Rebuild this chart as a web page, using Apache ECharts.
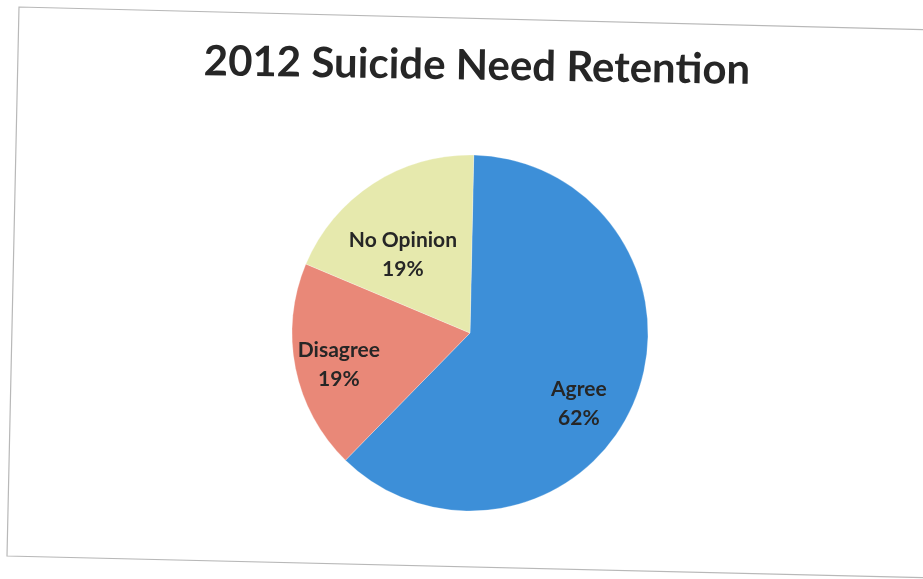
<!DOCTYPE html>
<html>
<head>
<meta charset="utf-8">
<script src="https://cdn.jsdelivr.net/npm/echarts@6/dist/echarts.min.js"></script>
<style>
html,body{margin:0;padding:0;background:#fff;}
#main{width:923px;height:579px;}
</style>
</head>
<body>
<div id="main"></div>
<script>
var titleText = '2012 Suicide Need Retention';
var categories = ['Agree', 'Disagree', 'No Opinion'];
var values = [62, 19, 19];
var colors = ['#3d8fd8', '#e98878', '#e6e9ad'];
var labelShift = [[24, 35], [-41, 14], [-17, -1]];

var chart = echarts.init(document.getElementById('main'));
var data = categories.map(function (c, i) {
  return { name: c, value: values[i], itemStyle: { color: colors[i] } };
});
chart.setOption({
  animation: false,
  backgroundColor: '#ffffff',
  graphic: [
    {
      type: 'polyline',
      shape: { points: [[940, 30], [19, 7], [7, 556], [940, 578]] },
      style: { stroke: '#b8b8b8', lineWidth: 1.2, fill: null },
      silent: true
    },
    {
      type: 'text',
      x: 477, y: 66,
      rotation: -0.016,
      style: {
        text: titleText,
        font: 'bold 42px Lato, "Open Sans", sans-serif',
        fill: '#262626',
        align: 'center',
        verticalAlign: 'middle'
      }
    }
  ],
  series: [{
    type: 'pie',
    center: [470, 333],
    radius: 178,
    startAngle: 88.8,
    clockwise: true,
    silent: true,
    data: data,
    itemStyle: { borderColor: 'rgba(255,255,255,0.5)', borderWidth: 0.5 },
    label: {
      show: true,
      position: 'inside',
      formatter: '{b}\n{d}%',
      fontFamily: 'Lato, "Open Sans", sans-serif',
      fontWeight: 'bold',
      fontSize: 21,
      lineHeight: 29,
      color: '#262626'
    },
    labelLayout: function (p) {
      var s = labelShift[p.dataIndex];
      return { dx: s[0], dy: s[1] };
    },
    labelLine: { show: false }
  }]
});
</script>
</body>
</html>
